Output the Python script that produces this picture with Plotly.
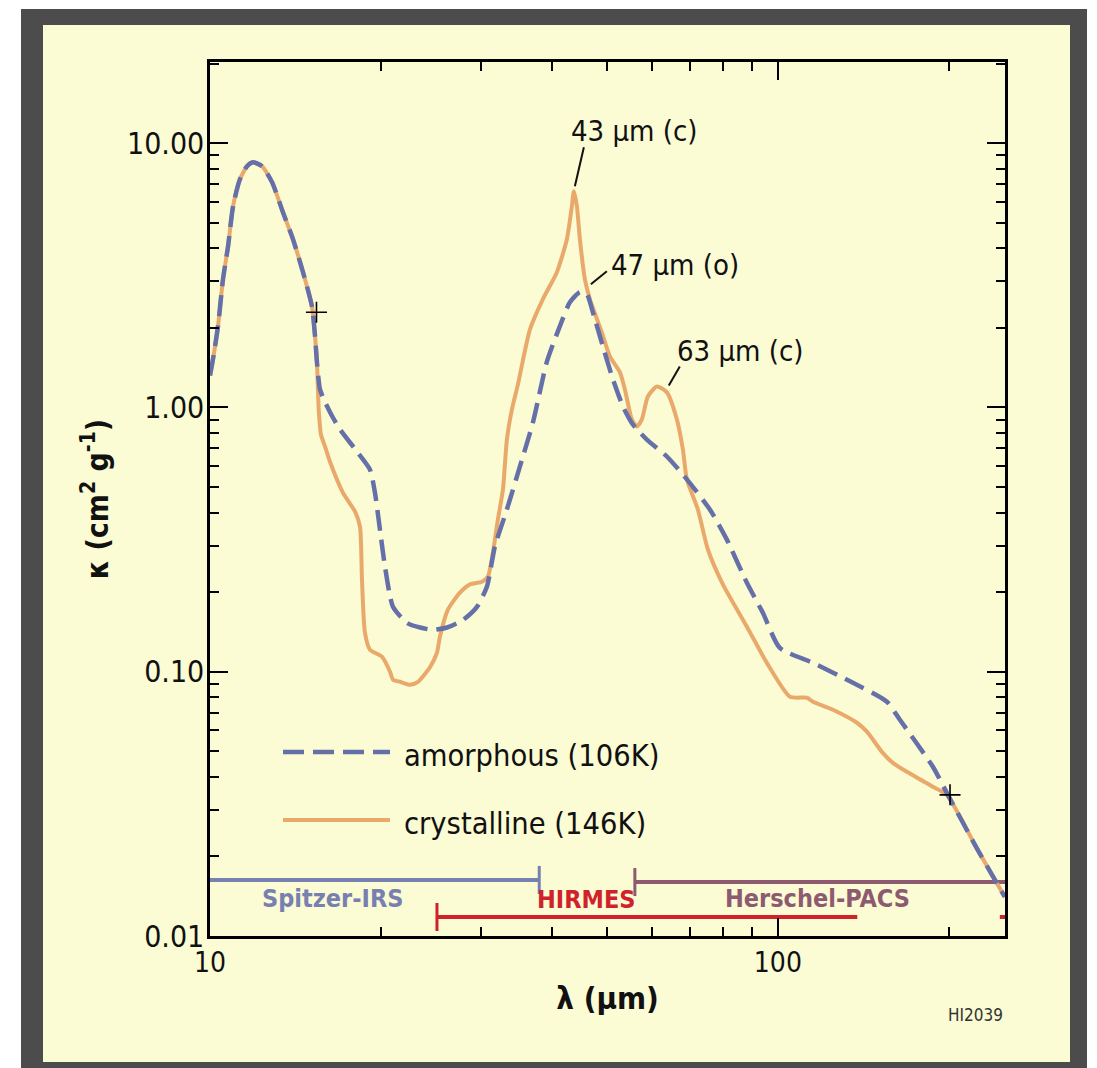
import math
import plotly.graph_objects as go

# ---------------- data ----------------
wl_cryst = [10.0, 10.12, 10.33, 10.54, 10.76, 10.98, 11.29, 11.62, 11.90, 12.35, 12.86, 13.44, 14.00,
            14.58, 15.12, 15.31, 15.43, 15.49, 15.55, 15.68, 15.94, 16.26, 17.14, 18.00, 18.37, 18.52,
            18.74, 19.13, 20.08, 20.75, 21.00, 21.61, 22.50, 23.24, 24.40, 25.10, 25.41, 26.25, 27.55,
            28.69, 30.12, 30.86, 31.49, 32.14, 32.80, 33.33, 34.02, 34.85, 36.59, 38.57, 40.82, 42.51,
            43.38, 43.73, 44.27, 44.81, 45.73, 46.66, 48.99, 50.60, 52.70, 53.78, 55.32, 56.46, 57.61,
            59.03, 61.23, 63.77, 66.40, 68.04, 69.15, 72.30, 75.30, 80.02, 88.20, 95.64, 105.0, 112.5,
            115.3, 125.0, 137.8, 143.5, 153.0, 159.4, 168.7, 187.5, 198.4, 224.0, 251.0]
kappa_cryst = [1.32, 1.52, 2.03, 3.05, 4.07, 5.77, 7.30, 8.18, 8.47, 8.18, 7.12, 5.48, 4.33,
               3.25, 2.41, 1.86, 1.48, 1.17, 0.957, 0.790, 0.712, 0.624, 0.476, 0.404, 0.354, 0.223,
               0.141, 0.121, 0.114, 0.100, 0.0933, 0.0916, 0.0893, 0.0916, 0.104, 0.118, 0.136, 0.172, 0.199,
               0.214, 0.219, 0.229, 0.282, 0.377, 0.489, 0.756, 0.983, 1.22, 1.97, 2.57, 3.25, 4.33,
               5.77, 6.58, 5.77, 4.33, 3.05, 2.57, 1.92, 1.56, 1.36, 1.17, 0.901, 0.847, 0.901,
               1.10, 1.20, 1.14, 0.901, 0.693, 0.534, 0.411, 0.290, 0.214, 0.148, 0.108, 0.0804, 0.0797,
               0.0770, 0.0718, 0.0641, 0.0593, 0.0493, 0.0452, 0.0418, 0.0367, 0.0342, 0.0215, 0.01405]

wl_amor = [10.0, 10.12, 10.33, 10.54, 10.76, 10.98, 11.29, 11.62, 11.90, 12.35, 12.86, 13.44, 14.00,
           14.58, 15.12, 15.31, 15.43, 15.62, 15.94, 16.46, 16.94, 18.15, 19.13, 19.52, 19.92, 20.33,
           21.00, 22.23, 23.43, 24.70, 26.14, 27.89, 29.52, 30.74, 31.75, 33.33, 35.14, 37.04, 39.20,
           41.32, 43.03, 44.81, 46.10, 47.23, 49.19, 51.22, 53.34, 55.55, 58.79, 63.77, 69.15, 75.91,
           81.32, 88.20, 94.10, 100.8, 115.3, 135.6, 155.6, 164.0, 187.5, 198.4, 224.0, 251.0]
kappa_amor = [1.32, 1.52, 2.03, 3.05, 4.07, 5.77, 7.30, 8.18, 8.47, 8.18, 7.12, 5.48, 4.33,
              3.25, 2.41, 1.86, 1.48, 1.17, 1.05, 0.916, 0.825, 0.681, 0.582, 0.476, 0.345, 0.250,
              0.176, 0.153, 0.147, 0.144, 0.147, 0.157, 0.176, 0.210, 0.298, 0.411, 0.598, 0.877, 1.49,
              2.03, 2.50, 2.73, 2.68, 2.29, 1.70, 1.28, 1.01, 0.862, 0.756, 0.652, 0.534, 0.411,
              0.316, 0.217, 0.167, 0.123, 0.108, 0.0908, 0.0770, 0.0658, 0.0437, 0.0348, 0.0215, 0.01405]

cross_wl = [15.4, 201.0]
cross_kappa = [2.29, 0.0342]

inst_names = ["Spitzer-IRS", "HIRMES", "Herschel-PACS", "HIRMES"]
inst_start = [5.0, 25.1, 56.0, 246.0]
inst_end = [38.0, 138.0, 400.0, 400.0]
inst_level = [0.0163, 0.0118, 0.0160, 0.0118]
inst_cap = [38.0, 25.1, 56.0, None]
inst_label_wl = [16.46, 45.9, 117.6, None]
inst_label_kappa = [0.0139, 0.0137, 0.0139, None]

peak_labels = ["43 µm (c)", "47 µm (o)", "63 µm (c)"]
peak_wl = [43.73, 46.66, 64.0]
peak_kappa = [6.58, 2.90, 1.20]
peak_text_wl = [55.8, 65.9, 85.8]
peak_text_kappa = [11.1, 3.45, 1.63]

x_major = [10, 100]
x_major_text = ["10", "100"]
x_minor = [20, 30, 40, 50, 60, 70, 80, 90, 200]
y_major = [0.01, 0.1, 1, 10]
y_major_text = ["0.01", "0.10", "1.00", "10.00"]
y_minor = [0.02, 0.03, 0.04, 0.05, 0.06, 0.07, 0.08, 0.09,
           0.2, 0.3, 0.4, 0.5, 0.6, 0.7, 0.8, 0.9,
           2, 3, 4, 5, 6, 7, 8, 9, 20]

series_names = ["amorphous (106K)", "crystalline (146K)"]
x_title = "<b>λ (µm)</b>"
y_title = "<b>κ (cm<sup>2</sup> g<sup>-1</sup>)</b>"

# ---------------- styles ----------------
FONT = "DejaVu Sans Condensed, Liberation Sans Narrow, sans-serif"
BLUE = "#6570a9"
ORANGE = "#e9a96b"
YELLOW = "#fbfbd4"
INK = "#111111"
inst_colors = ["#7880b1", "#d0222b", "#8d5a6f", "#d0222b"]
DASH = "21px,9px"

L = math.log10

fig = go.Figure()

# instrument ranges
for i in range(len(inst_names)):
    fig.add_trace(go.Scatter(
        x=[inst_start[i], inst_end[i]], y=[inst_level[i], inst_level[i]],
        mode="lines", line=dict(color=inst_colors[i], width=4),
        showlegend=False, hoverinfo="skip"))
    if inst_cap[i] is not None:
        fig.add_trace(go.Scatter(
            x=[inst_cap[i]], y=[inst_level[i]], mode="markers",
            marker=dict(symbol="line-ns", size=20, line=dict(color=inst_colors[i], width=3)),
            showlegend=False, hoverinfo="skip", cliponaxis=False))
    if inst_label_wl[i] is not None:
        fig.add_annotation(x=L(inst_label_wl[i]), y=L(inst_label_kappa[i]), xref="x", yref="y",
                           text="<b>%s</b>" % inst_names[i], showarrow=False,
                           font=dict(family=FONT, size=25, color=inst_colors[i]),
                           xanchor="center", yanchor="middle")

# curves
fig.add_trace(go.Scatter(x=wl_cryst, y=kappa_cryst, mode="lines", name=series_names[1],
                         line=dict(color=ORANGE, width=4, shape="spline", smoothing=0.6),
                         showlegend=False))
fig.add_trace(go.Scatter(x=wl_amor, y=kappa_amor, mode="lines", name=series_names[0],
                         line=dict(color=BLUE, width=4.5, dash=DASH, shape="spline", smoothing=0.6),
                         showlegend=False))
fig.add_trace(go.Scatter(x=cross_wl, y=cross_kappa, mode="markers",
                         marker=dict(symbol="cross-thin", size=15, line=dict(color="black", width=1.6)),
                         showlegend=False, hoverinfo="skip"))

# peak labels with leader lines (leader = pixel-sized line anchored at the peak)
leader_start = [(1, 5), (1, 1), (1, 1)]
leader_end = [(10, 44), (17, 14), (12, 20)]
for i in range(len(peak_labels)):
    fig.add_annotation(x=L(peak_text_wl[i]), y=L(peak_text_kappa[i]), xref="x", yref="y",
                       text=peak_labels[i], showarrow=False,
                       font=dict(family=FONT, size=29, color=INK),
                       xanchor="center", yanchor="middle")
    fig.add_shape(type="line", xref="x", yref="y",
                  xsizemode="pixel", ysizemode="pixel",
                  xanchor=peak_wl[i], yanchor=peak_kappa[i],
                  x0=leader_start[i][0], y0=leader_start[i][1],
                  x1=leader_end[i][0], y1=leader_end[i][1],
                  line=dict(color=INK, width=2))

# page-pixel -> paper helpers (plot area spans px 210..1005, 62..936 on the page)
def px_x(px):
    return (px - 210) / 795.0

def px_y(py):
    return (936 - py) / 874.0

# manual legend (long line samples as in the reference)
fig.add_shape(type="line", xref="paper", yref="paper", x0=px_x(283), x1=px_x(390),
              y0=px_y(752), y1=px_y(752), line=dict(color=BLUE, width=4.5, dash=DASH))
fig.add_shape(type="line", xref="paper", yref="paper", x0=px_x(283), x1=px_x(390),
              y0=px_y(820), y1=px_y(820), line=dict(color=ORANGE, width=4))
fig.add_annotation(x=px_x(402), y=px_y(755), xref="paper", yref="paper", text=series_names[0],
                   showarrow=False, xanchor="left", yanchor="middle",
                   font=dict(family=FONT, size=30.5, color=INK))
fig.add_annotation(x=px_x(402), y=px_y(823), xref="paper", yref="paper", text=series_names[1],
                   showarrow=False, xanchor="left", yanchor="middle",
                   font=dict(family=FONT, size=30.5, color=INK))

# frame / background
fig.add_shape(type="rect", xref="paper", yref="paper", layer="below",
              x0=px_x(21), x1=px_x(1087), y0=px_y(1075), y1=px_y(9),
              fillcolor="#4c4c4c", line=dict(width=0))
fig.add_shape(type="rect", xref="paper", yref="paper", layer="below",
              x0=px_x(43), x1=px_x(1070), y0=px_y(1062), y1=px_y(25),
              fillcolor=YELLOW, line=dict(width=0))

fig.add_annotation(x=1.0, y=px_y(1015), xref="paper", yref="paper", text="HI2039",
                   showarrow=False, xanchor="right", yanchor="middle",
                   font=dict(family=FONT, size=17, color="#333333"))

axis_common = dict(type="log", showline=True, mirror="allticks", linecolor="black", linewidth=2.5,
                   ticks="inside", ticklen=18, tickwidth=2, tickcolor="black",
                   showgrid=False, zeroline=False)

fig.update_xaxes(**axis_common, range=[1, 2.4], tickmode="array", tickvals=x_major,
                 ticktext=x_major_text, tickfont=dict(family=FONT, size=28, color=INK),
                 title=dict(text=x_title, font=dict(family=FONT, size=31, color=INK), standoff=9),
                 minor=dict(tickmode="array", tickvals=x_minor, ticks="inside", ticklen=9,
                            tickwidth=2, tickcolor="black", showgrid=False))
fig.update_yaxes(**axis_common, range=[-2, 1.307], tickmode="array", tickvals=y_major,
                 ticktext=y_major_text, tickfont=dict(family=FONT, size=30, color=INK),
                 ticklabelstandoff=-3,
                 title=dict(text=y_title, font=dict(family=FONT, size=30, color=INK), standoff=10),
                 minor=dict(tickmode="array", tickvals=y_minor, ticks="inside", ticklen=9,
                            tickwidth=2, tickcolor="black", showgrid=False))

# the page body adds an 8px margin, so the figure is 8px smaller and margins shifted
fig.update_layout(width=1089, height=1060, margin=dict(l=202, r=92, t=54, b=132),
                  paper_bgcolor="white", plot_bgcolor="rgba(0,0,0,0)", showlegend=False)

fig.write_html("out.html")
